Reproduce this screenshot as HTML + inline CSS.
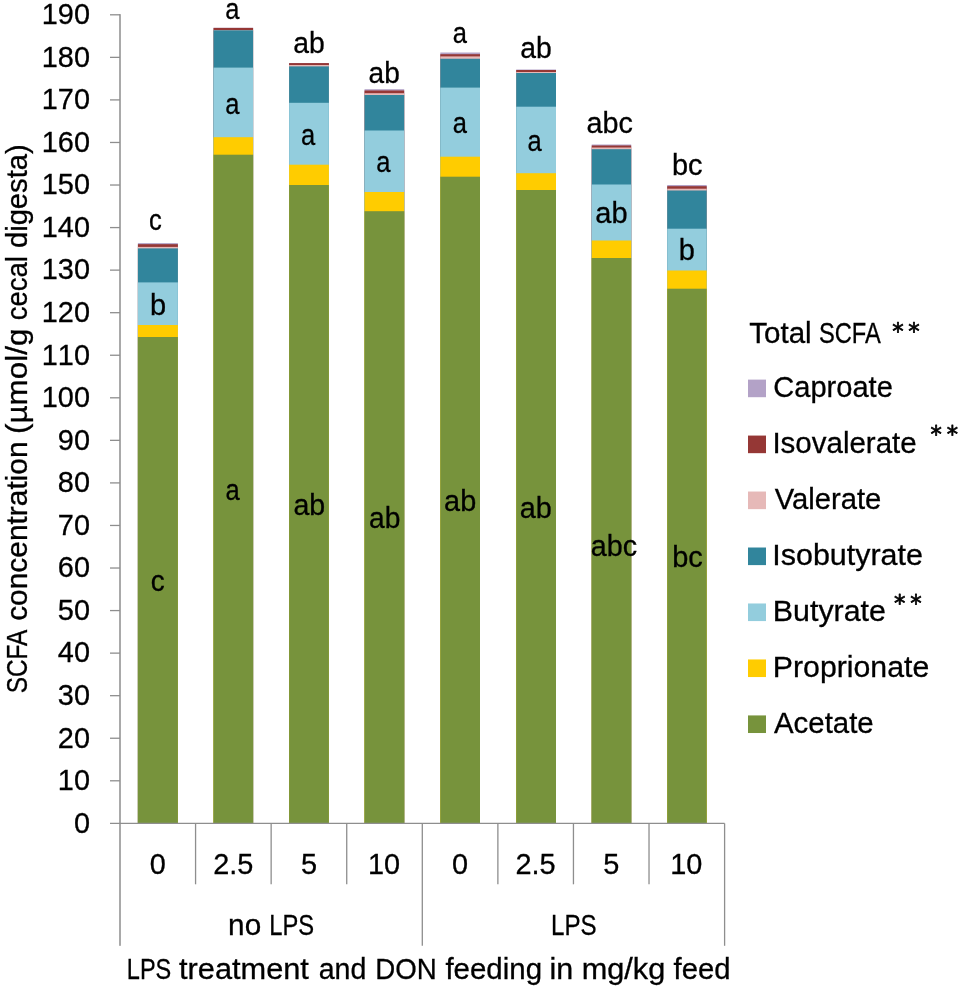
<!DOCTYPE html>
<html><head><meta charset="utf-8"><title>SCFA concentration</title>
<style>
html,body{margin:0;padding:0;background:#fff;}
svg{display:block;}
text{font-family:"Liberation Sans", sans-serif;fill:#000;stroke:#000;stroke-width:0.3px;}
</style></head>
<body>
<svg width="961" height="989" viewBox="0 0 961 989">
<rect width="961" height="989" fill="#ffffff"/>
<rect x="137.90" y="243.10" width="40.00" height="580.25" fill="#b3a2c7"/>
<rect x="137.90" y="244.20" width="40.00" height="579.15" fill="#953735"/>
<rect x="137.90" y="246.90" width="40.00" height="576.45" fill="#e6b9b8"/>
<rect x="137.90" y="248.40" width="40.00" height="574.95" fill="#31859c"/>
<rect x="137.90" y="282.40" width="40.00" height="540.95" fill="#93cddd"/>
<rect x="137.90" y="325.00" width="40.00" height="498.35" fill="#ffcc00"/>
<rect x="137.90" y="337.00" width="40.00" height="486.35" fill="#77933c"/>
<rect x="213.50" y="27.80" width="39.60" height="795.55" fill="#b3a2c7"/>
<rect x="213.50" y="27.90" width="39.60" height="795.45" fill="#953735"/>
<rect x="213.50" y="30.00" width="39.60" height="793.35" fill="#e6b9b8"/>
<rect x="213.50" y="30.30" width="39.60" height="793.05" fill="#31859c"/>
<rect x="213.50" y="67.60" width="39.60" height="755.75" fill="#93cddd"/>
<rect x="213.50" y="137.20" width="39.60" height="686.15" fill="#ffcc00"/>
<rect x="213.50" y="154.70" width="39.60" height="668.65" fill="#77933c"/>
<rect x="289.10" y="63.00" width="39.80" height="760.35" fill="#b3a2c7"/>
<rect x="289.10" y="63.10" width="39.80" height="760.25" fill="#953735"/>
<rect x="289.10" y="65.00" width="39.80" height="758.35" fill="#e6b9b8"/>
<rect x="289.10" y="66.40" width="39.80" height="756.95" fill="#31859c"/>
<rect x="289.10" y="102.80" width="39.80" height="720.55" fill="#93cddd"/>
<rect x="289.10" y="164.70" width="39.80" height="658.65" fill="#ffcc00"/>
<rect x="289.10" y="185.00" width="39.80" height="638.35" fill="#77933c"/>
<rect x="364.50" y="89.20" width="39.70" height="734.15" fill="#b3a2c7"/>
<rect x="364.50" y="90.50" width="39.70" height="732.85" fill="#953735"/>
<rect x="364.50" y="93.20" width="39.70" height="730.15" fill="#e6b9b8"/>
<rect x="364.50" y="95.00" width="39.70" height="728.35" fill="#31859c"/>
<rect x="364.50" y="130.50" width="39.70" height="692.85" fill="#93cddd"/>
<rect x="364.50" y="192.00" width="39.70" height="631.35" fill="#ffcc00"/>
<rect x="364.50" y="211.20" width="39.70" height="612.15" fill="#77933c"/>
<rect x="440.30" y="52.50" width="39.70" height="770.85" fill="#b3a2c7"/>
<rect x="440.30" y="54.20" width="39.70" height="769.15" fill="#953735"/>
<rect x="440.30" y="56.40" width="39.70" height="766.95" fill="#e6b9b8"/>
<rect x="440.30" y="58.75" width="39.70" height="764.60" fill="#31859c"/>
<rect x="440.30" y="87.60" width="39.70" height="735.75" fill="#93cddd"/>
<rect x="440.30" y="156.70" width="39.70" height="666.65" fill="#ffcc00"/>
<rect x="440.30" y="176.70" width="39.70" height="646.65" fill="#77933c"/>
<rect x="516.20" y="69.50" width="39.80" height="753.85" fill="#b3a2c7"/>
<rect x="516.20" y="70.00" width="39.80" height="753.35" fill="#953735"/>
<rect x="516.20" y="72.00" width="39.80" height="751.35" fill="#e6b9b8"/>
<rect x="516.20" y="73.00" width="39.80" height="750.35" fill="#31859c"/>
<rect x="516.20" y="106.70" width="39.80" height="716.65" fill="#93cddd"/>
<rect x="516.20" y="173.20" width="39.80" height="650.15" fill="#ffcc00"/>
<rect x="516.20" y="190.00" width="39.80" height="633.35" fill="#77933c"/>
<rect x="591.70" y="144.50" width="39.50" height="678.85" fill="#b3a2c7"/>
<rect x="591.70" y="145.50" width="39.50" height="677.85" fill="#953735"/>
<rect x="591.70" y="147.50" width="39.50" height="675.85" fill="#e6b9b8"/>
<rect x="591.70" y="149.20" width="39.50" height="674.15" fill="#31859c"/>
<rect x="591.70" y="184.50" width="39.50" height="638.85" fill="#93cddd"/>
<rect x="591.70" y="240.50" width="39.50" height="582.85" fill="#ffcc00"/>
<rect x="591.70" y="258.00" width="39.50" height="565.35" fill="#77933c"/>
<rect x="667.20" y="185.00" width="39.50" height="638.35" fill="#b3a2c7"/>
<rect x="667.20" y="186.20" width="39.50" height="637.15" fill="#953735"/>
<rect x="667.20" y="188.70" width="39.50" height="634.65" fill="#e6b9b8"/>
<rect x="667.20" y="190.50" width="39.50" height="632.85" fill="#31859c"/>
<rect x="667.20" y="228.70" width="39.50" height="594.65" fill="#93cddd"/>
<rect x="667.20" y="270.50" width="39.50" height="552.85" fill="#ffcc00"/>
<rect x="667.20" y="288.70" width="39.50" height="534.65" fill="#77933c"/>
<g stroke="#8e8e8e" stroke-width="1.3" fill="none">
<rect x="119" y="14.15" width="2" height="931.65" fill="#a9a9a9" stroke="none"/>
<line x1="110" y1="823.35" x2="724.6" y2="823.35"/>
<line x1="110" y1="780.79" x2="120.0" y2="780.79"/>
<line x1="110" y1="738.24" x2="120.0" y2="738.24"/>
<line x1="110" y1="695.68" x2="120.0" y2="695.68"/>
<line x1="110" y1="653.13" x2="120.0" y2="653.13"/>
<line x1="110" y1="610.57" x2="120.0" y2="610.57"/>
<line x1="110" y1="568.02" x2="120.0" y2="568.02"/>
<line x1="110" y1="525.46" x2="120.0" y2="525.46"/>
<line x1="110" y1="482.91" x2="120.0" y2="482.91"/>
<line x1="110" y1="440.35" x2="120.0" y2="440.35"/>
<line x1="110" y1="397.80" x2="120.0" y2="397.80"/>
<line x1="110" y1="355.24" x2="120.0" y2="355.24"/>
<line x1="110" y1="312.69" x2="120.0" y2="312.69"/>
<line x1="110" y1="270.13" x2="120.0" y2="270.13"/>
<line x1="110" y1="227.58" x2="120.0" y2="227.58"/>
<line x1="110" y1="185.02" x2="120.0" y2="185.02"/>
<line x1="110" y1="142.47" x2="120.0" y2="142.47"/>
<line x1="110" y1="99.91" x2="120.0" y2="99.91"/>
<line x1="110" y1="57.36" x2="120.0" y2="57.36"/>
<line x1="110" y1="14.80" x2="120.0" y2="14.80"/>
<line x1="195.57" y1="823.35" x2="195.57" y2="884.3"/>
<line x1="271.15" y1="823.35" x2="271.15" y2="884.3"/>
<line x1="346.73" y1="823.35" x2="346.73" y2="884.3"/>
<line x1="422.30" y1="823.35" x2="422.30" y2="945.8"/>
<line x1="497.88" y1="823.35" x2="497.88" y2="884.3"/>
<line x1="573.45" y1="823.35" x2="573.45" y2="884.3"/>
<line x1="649.02" y1="823.35" x2="649.02" y2="884.3"/>
<line x1="724.60" y1="823.35" x2="724.60" y2="945.8"/>
</g>
<text transform="translate(73.94,832.65) scale(0.9571,1)" font-size="30.2" style="font-kerning:none">0</text>
<text transform="translate(57.87,790.09) scale(0.9571,1)" font-size="30.2" style="font-kerning:none">10</text>
<text transform="translate(57.87,747.54) scale(0.9571,1)" font-size="30.2" style="font-kerning:none">20</text>
<text transform="translate(57.87,704.98) scale(0.9571,1)" font-size="30.2" style="font-kerning:none">30</text>
<text transform="translate(57.87,662.43) scale(0.9571,1)" font-size="30.2" style="font-kerning:none">40</text>
<text transform="translate(57.87,619.87) scale(0.9571,1)" font-size="30.2" style="font-kerning:none">50</text>
<text transform="translate(57.87,577.32) scale(0.9571,1)" font-size="30.2" style="font-kerning:none">60</text>
<text transform="translate(57.87,534.76) scale(0.9571,1)" font-size="30.2" style="font-kerning:none">70</text>
<text transform="translate(57.87,492.21) scale(0.9571,1)" font-size="30.2" style="font-kerning:none">80</text>
<text transform="translate(57.87,449.65) scale(0.9571,1)" font-size="30.2" style="font-kerning:none">90</text>
<text transform="translate(41.79,407.10) scale(0.9571,1)" font-size="30.2" style="font-kerning:none">100</text>
<text transform="translate(41.79,364.54) scale(0.9571,1)" font-size="30.2" style="font-kerning:none">110</text>
<text transform="translate(41.79,321.99) scale(0.9571,1)" font-size="30.2" style="font-kerning:none">120</text>
<text transform="translate(41.79,279.43) scale(0.9571,1)" font-size="30.2" style="font-kerning:none">130</text>
<text transform="translate(41.79,236.88) scale(0.9571,1)" font-size="30.2" style="font-kerning:none">140</text>
<text transform="translate(41.79,194.32) scale(0.9571,1)" font-size="30.2" style="font-kerning:none">150</text>
<text transform="translate(41.79,151.77) scale(0.9571,1)" font-size="30.2" style="font-kerning:none">160</text>
<text transform="translate(41.79,109.21) scale(0.9571,1)" font-size="30.2" style="font-kerning:none">170</text>
<text transform="translate(41.79,66.66) scale(0.9571,1)" font-size="30.2" style="font-kerning:none">180</text>
<text transform="translate(41.79,24.10) scale(0.9571,1)" font-size="30.2" style="font-kerning:none">190</text>
<text transform="translate(149.66,874.00) scale(0.9571,1)" font-size="30.2">0</text>
<text transform="translate(213.18,874.00) scale(0.9571,1)" font-size="30.2">2.5</text>
<text transform="translate(301.03,874.00) scale(0.9571,1)" font-size="30.2">5</text>
<text transform="translate(367.89,874.00) scale(0.9571,1)" font-size="30.2">10</text>
<text transform="translate(451.96,874.00) scale(0.9571,1)" font-size="30.2">0</text>
<text transform="translate(515.48,874.00) scale(0.9571,1)" font-size="30.2">2.5</text>
<text transform="translate(603.33,874.00) scale(0.9571,1)" font-size="30.2">5</text>
<text transform="translate(670.19,874.00) scale(0.9571,1)" font-size="30.2">10</text>
<text transform="translate(149.02,229.50) scale(0.8800,1)" font-size="29.0">c</text>
<text transform="translate(225.27,18.60) scale(0.8800,1)" font-size="29.0">a</text>
<text transform="translate(293.31,53.00) scale(0.9776,1)" font-size="29.0">ab</text>
<text transform="translate(368.62,82.50) scale(0.9677,1)" font-size="29.0">ab</text>
<text transform="translate(452.87,42.50) scale(0.8800,1)" font-size="29.0">a</text>
<text transform="translate(520.31,58.00) scale(0.9776,1)" font-size="29.0">ab</text>
<text transform="translate(586.60,133.20) scale(0.9912,1)" font-size="29.0">abc</text>
<text transform="translate(671.89,174.50) scale(0.9978,1)" font-size="29.0">bc</text>
<text transform="translate(149.97,315.00) scale(1.0000,1)" font-size="29.0">b</text>
<text transform="translate(225.27,113.70) scale(0.8800,1)" font-size="29.0">a</text>
<text transform="translate(300.92,145.00) scale(0.8800,1)" font-size="29.0">a</text>
<text transform="translate(376.17,172.00) scale(0.8800,1)" font-size="29.0">a</text>
<text transform="translate(452.87,132.50) scale(0.8800,1)" font-size="29.0">a</text>
<text transform="translate(527.62,150.70) scale(0.8800,1)" font-size="29.0">a</text>
<text transform="translate(595.26,223.00) scale(1.0000,1)" font-size="29.0">ab</text>
<text transform="translate(678.72,259.50) scale(1.0000,1)" font-size="29.0">b</text>
<text transform="translate(150.83,591.00) scale(0.9589,1)" font-size="29.0">c</text>
<text transform="translate(225.42,500.00) scale(0.8800,1)" font-size="29.0">a</text>
<text transform="translate(293.41,515.00) scale(0.9842,1)" font-size="29.0">ab</text>
<text transform="translate(369.12,528.30) scale(0.9710,1)" font-size="29.0">ab</text>
<text transform="translate(444.10,511.00) scale(0.9942,1)" font-size="29.0">ab</text>
<text transform="translate(519.80,517.70) scale(0.9942,1)" font-size="29.0">ab</text>
<text transform="translate(590.80,555.70) scale(0.9912,1)" font-size="29.0">abc</text>
<text transform="translate(672.19,567.30) scale(0.9978,1)" font-size="29.0">bc</text>
<text y="935.40" font-size="29.0"><tspan x="228.14" textLength="33.06" lengthAdjust="spacingAndGlyphs">no</tspan> <tspan x="269.35" textLength="44.85" lengthAdjust="spacingAndGlyphs">LPS</tspan></text>
<text y="935.40" font-size="29.0"><tspan x="551.02" textLength="45.60" lengthAdjust="spacingAndGlyphs">LPS</tspan></text>
<text y="979.30" font-size="29.0"><tspan x="126.86" textLength="44.42" lengthAdjust="spacingAndGlyphs">LPS</tspan> <tspan x="179.00" textLength="129.89" lengthAdjust="spacingAndGlyphs">treatment</tspan> <tspan x="318.71" textLength="47.70" lengthAdjust="spacingAndGlyphs">and</tspan> <tspan x="375.34" textLength="61.52" lengthAdjust="spacingAndGlyphs">DON</tspan> <tspan x="445.40" textLength="96.65" lengthAdjust="spacingAndGlyphs">feeding</tspan> <tspan x="549.60" textLength="23.72" lengthAdjust="spacingAndGlyphs">in</tspan> <tspan x="581.68" textLength="83.64" lengthAdjust="spacingAndGlyphs">mg/kg</tspan> <tspan x="673.50" textLength="56.94" lengthAdjust="spacingAndGlyphs">feed</tspan></text>
<text transform="translate(26.6,0) rotate(-90)" y="0.00" font-size="29.0"><tspan x="-693.35" textLength="62.33" lengthAdjust="spacingAndGlyphs">SCFA</tspan> <tspan x="-620.83" textLength="179.41" lengthAdjust="spacingAndGlyphs">concentration</tspan> <tspan x="-434.07" textLength="105.44" lengthAdjust="spacingAndGlyphs">(µmol/g</tspan> <tspan x="-320.36" textLength="64.17" lengthAdjust="spacingAndGlyphs">cecal</tspan> <tspan x="-248.11" textLength="103.92" lengthAdjust="spacingAndGlyphs">digesta)</tspan></text>
<rect x="748.00" y="379.60" width="18.00" height="17.60" fill="#b3a2c7"/>
<text transform="translate(773.34,396.90) scale(1.0020,1)" font-size="29.0">Caproate</text>
<rect x="748.00" y="435.57" width="18.00" height="17.60" fill="#953735"/>
<text transform="translate(772.40,452.87) scale(1.0172,1)" font-size="29.0">Isovalerate</text>
<rect x="748.00" y="491.54" width="18.00" height="17.60" fill="#e6b9b8"/>
<text transform="translate(774.70,508.84) scale(1.0078,1)" font-size="29.0">Valerate</text>
<rect x="748.00" y="547.51" width="18.00" height="17.60" fill="#31859c"/>
<text transform="translate(772.32,564.81) scale(1.0498,1)" font-size="29.0">Isobutyrate</text>
<rect x="748.00" y="603.48" width="18.00" height="17.60" fill="#93cddd"/>
<text transform="translate(772.83,620.78) scale(1.0473,1)" font-size="29.0">Butyrate</text>
<rect x="748.00" y="659.45" width="18.00" height="17.60" fill="#ffcc00"/>
<text transform="translate(772.84,676.75) scale(1.0431,1)" font-size="29.0">Proprionate</text>
<rect x="748.00" y="715.42" width="18.00" height="17.60" fill="#77933c"/>
<text transform="translate(774.00,732.72) scale(1.0137,1)" font-size="29.0">Acetate</text>
<text y="343.00" font-size="29.0"><tspan x="749.24" textLength="62.41" lengthAdjust="spacingAndGlyphs">Total</tspan> <tspan x="818.96" textLength="61.82" lengthAdjust="spacingAndGlyphs">SCFA</tspan></text>
<text transform="translate(0,338.96) scale(0.9862,1)" font-size="23.15" style="font-family:'DejaVu Sans',sans-serif;stroke-width:0.75px;stroke-linejoin:round"><tspan x="904.69">*</tspan><tspan x="920.97">*</tspan></text>
<text transform="translate(0,441.97) scale(0.9680,1)" font-size="23.36" style="font-family:'DejaVu Sans',sans-serif;stroke-width:0.75px;stroke-linejoin:round"><tspan x="961.32">*</tspan><tspan x="978.06">*</tspan></text>
<text transform="translate(0,611.31) scale(0.9640,1)" font-size="23.68" style="font-family:'DejaVu Sans',sans-serif;stroke-width:0.75px;stroke-linejoin:round"><tspan x="927.52">*</tspan><tspan x="944.22">*</tspan></text>
</svg>
</body></html>
